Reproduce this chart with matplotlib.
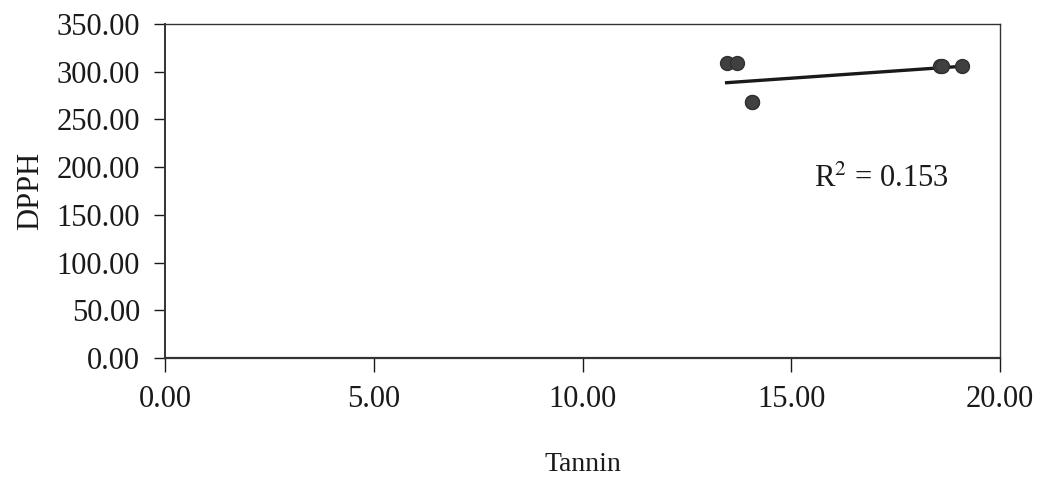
import numpy as np
import matplotlib.pyplot as plt

plt.rcParams['font.family'] = ['Liberation Serif', 'DejaVu Serif']
plt.rcParams['mathtext.fontset'] = 'stix'

# Tannin vs DPPH samples
tannin = [13.45, 13.7, 14.05, 14.05, 18.55, 18.6, 19.1]
dpph = [309, 309, 268, 268, 306, 306, 306]
r2_text = r'R$^{2}$ = 0.153'

x = np.array(tannin)
y = np.array(dpph)
slope, icpt = np.polyfit(x, y, 1)
xf = np.array([x.min(), x.max()])

fig = plt.figure(figsize=(10.45, 4.88), dpi=100)
ax = fig.add_axes([0.158, 0.266, 0.799, 0.685])

ax.plot(x, y, 'o', color='#404040', ms=10, mec='#303030', zorder=3)
ax.plot(xf, slope * xf + icpt, color='#1a1a1a', lw=2.4, zorder=2)
ax.text(15.55, 179, r2_text, fontsize=22, color='#1a1a1a')

ax.set_xlim(0, 20)
ax.set_ylim(0, 350)
ax.set_xticks(np.arange(0, 21, 5))
ax.set_yticks(np.arange(0, 351, 50))
ax.xaxis.set_major_formatter(plt.FormatStrFormatter('%.2f'))
ax.yaxis.set_major_formatter(plt.FormatStrFormatter('%.2f'))
ax.tick_params(axis='both', labelsize=22, colors='#1a1a1a', length=8, width=1)
ax.tick_params(axis='x', pad=9, length=10)
ax.tick_params(axis='y', pad=10)
for s in ax.spines.values():
    s.set_linewidth(1)
    s.set_color('#333333')
ax.spines['bottom'].set_linewidth(1.6)
ax.spines['left'].set_linewidth(1.4)

ax.set_xlabel('Tannin', fontsize=20, color='#1a1a1a', labelpad=28)
ax.set_ylabel('DPPH', fontsize=22, color='#1a1a1a', labelpad=8)

fig.savefig('out.png', dpi=100)
